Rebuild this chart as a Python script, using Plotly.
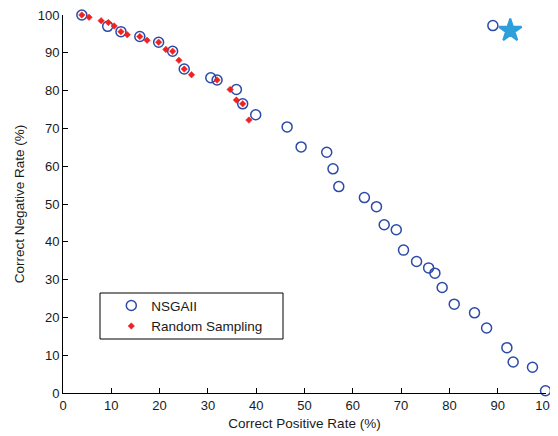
import plotly.graph_objects as go

nsga_x = [3.9, 9.25, 12.0, 15.9, 19.8, 22.7, 25.1, 30.6, 31.9, 35.9, 37.2, 39.9,
          46.4, 49.3, 54.6, 55.9, 57.1, 62.4, 64.9, 66.5, 69.0, 70.5, 73.2, 75.7,
          77.0, 78.5, 81.0, 85.2, 87.7, 91.9, 93.2, 97.2, 99.9, 89.0]
nsga_y = [100.0, 97.0, 95.6, 94.3, 92.8, 90.4, 85.7, 83.4, 82.8, 80.3, 76.5, 73.6,
          70.4, 65.1, 63.7, 59.3, 54.6, 51.7, 49.3, 44.5, 43.2, 37.8, 34.8, 33.1,
          31.7, 27.9, 23.5, 21.2, 17.2, 12.0, 8.2, 6.8, 0.6, 97.2]

rand_x = [3.9, 5.4, 7.9, 9.4, 10.6, 12.0, 13.3, 15.9, 17.4, 19.8, 21.3, 22.7,
          24.0, 25.1, 26.6, 31.9, 34.6, 35.9, 37.2, 38.5]
rand_y = [100.0, 99.4, 98.5, 98.0, 97.1, 95.6, 94.8, 94.3, 93.3, 92.8, 90.9, 90.4,
          88.0, 85.7, 84.2, 82.8, 80.3, 77.5, 76.5, 72.2]

star_x = [92.6]
star_y = [95.9]

ticks = [0, 10, 20, 30, 40, 50, 60, 70, 80, 90, 100]

FONT = "Liberation Sans, Arial"

fig = go.Figure()
fig.add_trace(go.Scatter(
    x=nsga_x, y=nsga_y, mode="markers", name="NSGAII", cliponaxis=False,
    marker=dict(symbol="circle-open", size=10, color="#2b4aa8", line=dict(width=1.5, color="#2b4aa8"))))
fig.add_trace(go.Scatter(
    x=rand_x, y=rand_y, mode="markers", name="Random Sampling", cliponaxis=False,
    marker=dict(symbol="diamond", size=5, color="#ee2222", line=dict(width=0.5, color="#ee2222"))))
fig.add_trace(go.Scatter(
    x=star_x, y=star_y, mode="markers", showlegend=False, cliponaxis=False,
    marker=dict(symbol="star", size=17, color="#2e9fdb", line=dict(width=2, color="#2e9fdb"))))

axis_common = dict(
    range=[0, 100], tickvals=ticks, ticks="inside", ticklen=5, tickcolor="black",
    showline=True, linecolor="black", linewidth=1, showgrid=False, zeroline=False,
    tickfont=dict(family=FONT, size=13, color="#1a1a1a"),
    mirror=False, automargin=False, ticklabeloverflow="allow",
)

# page body has an 8px default margin; figure offset accounted for in margins
fig.update_layout(
    width=550, height=428,
    margin=dict(l=55, r=12, t=7, b=43),
    plot_bgcolor="white", paper_bgcolor="white",
    font=dict(family=FONT, size=13, color="#1a1a1a"),
    xaxis=dict(**axis_common, title=dict(text="Correct Positive Rate (%)", standoff=6,
                                         font=dict(size=13.5))),
    yaxis=dict(**axis_common, title=dict(text="Correct Negative Rate (%)", standoff=9,
                                         font=dict(size=13.5))),
    legend=dict(x=0.1, y=0.272, xanchor="left", yanchor="top",
                bgcolor="rgba(0,0,0,0)", borderwidth=0,
                font=dict(size=13.5, color="#1a1a1a"), itemwidth=30, tracegroupgap=0),
    shapes=[dict(type="rect", xref="paper", yref="paper",
                 x0=(100 - 63) / 483, x1=(283 - 63) / 483,
                 y0=(393 - 339) / 378, y1=(393 - 293) / 378,
                 line=dict(color="black", width=1), fillcolor="rgba(0,0,0,0)")],
)

fig.write_html("out.html")
